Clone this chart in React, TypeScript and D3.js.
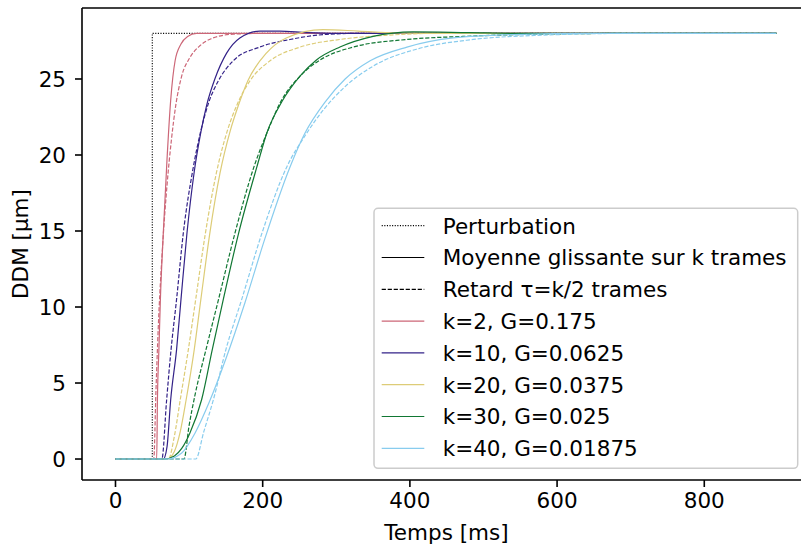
import React from "react";
import * as d3 from "d3";

type Pt = [number, number];

// Time [ms], DDM [µm]
const perturbation: Pt[] = [[0, 0], [50, 0], [50, 28], [898, 28]];

const k2Solid: Pt[] = [[0, 0], [56, 0], [57, 3.9], [59, 7.2], [61, 10.5], [65, 14.9], [70, 19.7], [75, 23.6], [81, 26.2], [89, 27.3], [98, 27.8], [110, 28], [898, 28]];
const k2Dashed: Pt[] = [[0, 0], [52, 0], [55, 4.5], [58, 8.5], [64, 14], [70, 18], [76, 21], [82, 23.3], [90, 25.2], [101, 26.4], [115, 27.2], [130, 27.65], [160, 27.95], [200, 28], [898, 28]];

const k10Solid: Pt[] = [[0, 0], [65, 0], [70, 0.8], [75, 3.9], [83, 7.2], [89, 10.5], [97, 14.8], [107, 18.9], [116, 21.5], [124, 23.3], [135, 25.0], [151, 26.7], [169, 27.7], [196, 28.15], [223, 28.15], [260, 28.05], [300, 28], [898, 28]];
const k10Dashed: Pt[] = [[0, 0], [63, 0], [69.5, 3.9], [75.5, 7.2], [83, 10.5], [92, 14.8], [105, 19.0], [116, 21.6], [127, 23.5], [140, 24.9], [160, 26.2], [196, 27.1], [237, 27.6], [291, 27.95], [330, 28], [898, 28]];

const k20Solid: Pt[] = [[0, 0], [70, 0], [80, 0.5], [88, 1.8], [96, 3.9], [107, 7.2], [116, 10.5], [128, 14.8], [142, 18.8], [156, 21.6], [168, 23.4], [180, 24.9], [205, 26.7], [232, 27.7], [282, 28.25], [330, 28.15], [380, 28.03], [420, 28], [898, 28]];
const k20Dashed: Pt[] = [[0, 0], [72, 0], [80, 1.5], [88, 3.9], [99, 7.2], [109, 10.5], [122, 14.8], [137, 18.8], [152, 21.6], [166, 23.4], [183, 24.9], [210, 26.2], [251, 27.1], [305, 27.6], [370, 27.88], [430, 28], [898, 28]];

const k30Solid: Pt[] = [[0, 0], [67, 0], [80, 0.2], [90, 0.7], [101, 1.7], [117, 3.9], [131.5, 7.2], [146.5, 10.5], [167, 14.8], [192, 19.2], [206, 21.5], [226, 23.5], [251, 25.2], [273, 26.25], [305, 27.1], [350, 27.8], [404, 28.1], [480, 28.05], [550, 28], [898, 28]];
const k30Dashed: Pt[] = [[0, 0], [93, 0], [100, 2.2], [108, 4.2], [124, 7.4], [140, 10.5], [162, 14.8], [188, 19.2], [207, 21.6], [224.5, 23.5], [251, 25.2], [278, 26.25], [323, 27.1], [396, 27.6], [472, 27.8], [604, 27.97], [700, 28], [898, 28]];

const k40Solid: Pt[] = [[0, 0], [70, 0], [90, 0.4], [108, 1.7], [127, 3.7], [150, 6.6], [176, 10.3], [203, 14.5], [237, 19.2], [257, 21.4], [285, 23.5], [312, 25.0], [346, 26.2], [396, 27.1], [459, 27.7], [540, 27.92], [650, 28], [898, 28]];
const k40Dashed: Pt[] = [[0, 0], [109, 0], [120, 1.8], [133, 3.9], [150, 7.2], [171.5, 10.5], [198.6, 14.8], [232.6, 19.2], [258, 21.3], [283, 23.0], [312, 24.5], [352, 25.9], [412, 27.0], [486, 27.6], [580, 27.88], [700, 28], [898, 28]];

const seriesLabels = ["k=2, G=0.175", "k=10, G=0.0625", "k=20, G=0.0375", "k=30, G=0.025", "k=40, G=0.01875"];
const seriesColors = ["#CC6677", "#332288", "#DDCC77", "#117733", "#88CCEE"];
const solidSeries = [k2Solid, k10Solid, k20Solid, k30Solid, k40Solid];
const dashedSeries = [k2Dashed, k10Dashed, k20Dashed, k30Dashed, k40Dashed];

const xTicks = [0, 200, 400, 600, 800];
const yTicks = [0, 5, 10, 15, 20, 25];
const xLabel = "Temps [ms]";
const yLabel = "DDM [µm]";
const legendStyleLabels = ["Perturbation", "Moyenne glissante sur k trames", "Retard τ=k/2 trames"];

const W = 801;
const H = 549;
const FONT = "'DejaVu Sans', sans-serif";
const FS = 21.5;

export default function App() {
  const x = d3.scaleLinear().domain([-45.5, 945]).range([82, 811]);
  const y = d3.scaleLinear().domain([-1.38, 29.67]).range([480, 8]);
  const smooth = d3.line<Pt>().x((d) => x(d[0])).y((d) => y(d[1])).curve(d3.curveMonotoneX);
  const straight = d3.line<Pt>().x((d) => x(d[0])).y((d) => y(d[1]));

  const left = x.range()[0];
  const right = x.range()[1];
  const top = y.range()[1];
  const bottom = y.range()[0];

  const legX = 374;
  const legY = 208.3;
  const legW = 423.7;
  const legH = 260;
  const rowY0 = 225.7;
  const rowStep = 31.8;
  const handleX0 = 381.7;
  const handleX1 = 424.3;
  const textX = 442.7;

  const legendRows: { label: string; color: string; dash?: string }[] = [
    { label: legendStyleLabels[0], color: "#000", dash: "1.1,1.5" },
    { label: legendStyleLabels[1], color: "#000" },
    { label: legendStyleLabels[2], color: "#000", dash: "4.2,1.8" },
    ...seriesLabels.map((l, i) => ({ label: l, color: seriesColors[i] })),
  ];

  return (
    <svg
      width={W}
      height={H}
      style={{ position: "absolute", left: 0, top: 0, background: "#fff" }}
      fontFamily={FONT}
    >
      <rect x={0} y={0} width={W} height={H} fill="#fff" />
      <g>
        <path d={straight(perturbation) || ""} fill="none" stroke="#000" strokeWidth={1.1} strokeDasharray="1.1,1.5" />
        {solidSeries.map((s, i) => (
          <g key={i}>
            <path d={smooth(s) || ""} fill="none" stroke={seriesColors[i]} strokeWidth={1.2} />
            <path d={smooth(dashedSeries[i]) || ""} fill="none" stroke={seriesColors[i]} strokeWidth={1.2} strokeDasharray="4.2,1.8" />
          </g>
        ))}
      </g>

      {/* spines */}
      <line x1={left} x2={left} y1={top} y2={bottom} stroke="#000" strokeWidth={1.6} />
      <line x1={left} x2={right} y1={bottom} y2={bottom} stroke="#000" strokeWidth={1.6} />
      <line x1={left} x2={right} y1={top} y2={top} stroke="#000" strokeWidth={1.6} />
      <line x1={right} x2={right} y1={top} y2={bottom} stroke="#000" strokeWidth={1.6} />

      {xTicks.map((t) => (
        <g key={"x" + t}>
          <line x1={x(t)} x2={x(t)} y1={bottom} y2={bottom + 7} stroke="#000" strokeWidth={1.6} />
          <text x={x(t)} y={508} textAnchor="middle" fontSize={FS} fill="#000">{t}</text>
        </g>
      ))}
      {yTicks.map((t) => (
        <g key={"y" + t}>
          <line x1={left - 7} x2={left} y1={y(t)} y2={y(t)} stroke="#000" strokeWidth={1.6} />
          <text x={66} y={y(t) + 7.8} textAnchor="end" fontSize={FS} fill="#000">{t}</text>
        </g>
      ))}
      <text x={(left + right) / 2} y={540} textAnchor="middle" fontSize={FS} fill="#000">{xLabel}</text>
      <text transform={`translate(28,${(top + bottom) / 2}) rotate(-90)`} textAnchor="middle" fontSize={FS} fill="#000">{yLabel}</text>

      {/* legend */}
      <rect x={legX} y={legY} width={legW} height={legH} rx={4} ry={4} fill="#fff" fillOpacity={0.8} stroke="#cccccc" strokeWidth={1.5} />
      {legendRows.map((r, i) => {
        const ry = rowY0 + i * rowStep;
        return (
          <g key={"l" + i}>
            <line x1={handleX0} x2={handleX1} y1={ry} y2={ry} stroke={r.color} strokeWidth={1.2} strokeDasharray={r.dash} />
            <text x={textX} y={ry + 7.8} fontSize={FS} fill="#000">{r.label}</text>
          </g>
        );
      })}
    </svg>
  );
}
